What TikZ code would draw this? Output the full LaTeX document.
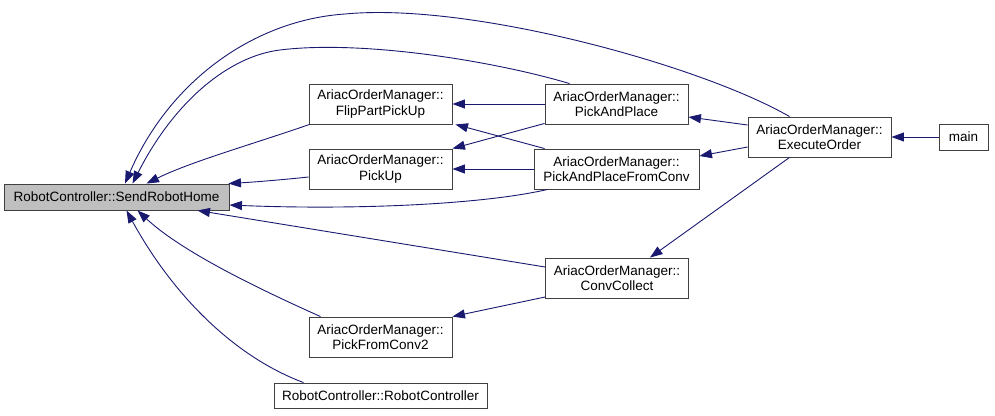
\documentclass[tikz,border=0pt]{standalone}
\usepackage{fontspec}
\setmainfont{Liberation Sans}
\usepackage{tikz}
\usetikzlibrary{arrows.meta}
\definecolor{lienbleu}{HTML}{191970}
\definecolor{cadre}{HTML}{404040}
\newcommand\fnfont{\fontsize{13.5}{15.5}\selectfont}
\tikzset{
  fnbox/.style={draw=cadre, fill=white, font=\fnfont, align=center, inner sep=0pt,
    minimum width=143pt, minimum height=40pt, line width=0.9pt},
  appel/.style={draw=lienbleu, line width=0.9pt, -{Triangle[length=12.5pt,width=9pt]}},
}

\begin{document}
\begin{tikzpicture}[x=1pt,y=-1pt]
        \useasboundingbox (0,0) rectangle (995,415);

        % Boites
        \node[fnbox, fill=black!25, minimum width=225pt, minimum height=26pt] (send) at (116.5,197) {RobotController::SendRobotHome};
        \node[fnbox] (flip) at (380.5,104) {AriacOrderManager::\\FlipPartPickUp};
        \node[fnbox] (pickup) at (380.5,169) {AriacOrderManager::\\PickUp};
        \node[fnbox] (pfc2) at (380.5,337) {AriacOrderManager::\\PickFromConv2};
        \node[fnbox, minimum width=213pt, minimum height=25pt] (rc) at (380.5,395.5) {RobotController::RobotController};
        \node[fnbox] (pap) at (616.5,104) {AriacOrderManager::\\PickAndPlace};
        \node[fnbox, minimum width=165pt] (papfc) at (616.5,169) {AriacOrderManager::\\PickAndPlaceFromConv};
        \node[fnbox] (conv) at (617,278) {AriacOrderManager::\\ConvCollect};
        \node[fnbox] (exec) at (819.5,137) {AriacOrderManager::\\ExecuteOrder};
        \node[fnbox, minimum width=49pt, minimum height=26pt] (main) at (963.5,137) {main};

        % Appels vers SendRobotHome
        \draw[appel] ([xshift=42pt]exec.north west) .. controls (700,65) and (470,2) .. (345,14)
            .. controls (255,20) and (170,80) .. ([xshift=8.5pt]send.north);
        \draw[appel] ([xshift=25pt]pap.north west) .. controls (490,60) and (360,40) .. (280,50)
            .. controls (230,56) and (175,100) .. ([xshift=16pt]send.north);
        \draw[appel] ([xshift=1pt]flip.south west) .. controls (250,145) and (190,162) .. ([xshift=30pt]send.north);
        \draw[appel] ([yshift=-8pt]pickup.west) .. controls (280,180) and (255,182) .. ([xshift=-1pt]send.north east);
        \draw[appel] ([xshift=14pt]papfc.south west) .. controls (480,205) and (350,210) .. ([yshift=-8pt]send.east);
        \draw[appel] ([yshift=11pt]conv.west) -- ([xshift=-32pt]send.south east);
        \draw[appel] ([xshift=-60pt]pfc2.north) .. controls (250,285) and (180,250) .. ([xshift=21pt]send.south);
        \draw[appel] ([xshift=-77pt]rc.north) .. controls (230,355) and (170,290) .. ([xshift=10pt]send.south);

        % Autres appels
        \draw[appel] (pap.west) -- (flip.east);
        \draw[appel] ([xshift=11pt]papfc.north west) -- ([xshift=3pt]flip.south east);
        \draw[appel] ([yshift=1pt]pap.south west) -- (pickup.north east);
        \draw[appel] (papfc.west) -- (pickup.east);
        \draw[appel] ([yshift=12pt]exec.west) -- ([yshift=-13pt]pap.east);
        \draw[appel] ([yshift=-10pt]exec.west) -- ([yshift=13pt]papfc.east);
        \draw[appel] ([xshift=-30pt]exec.south) -- ([xshift=33pt]conv.north);
        \draw[appel] ([yshift=-19pt]conv.west) -- (pfc2.north east);
        \draw[appel] (main) -- (exec);
    \end{tikzpicture}
\end{document}
